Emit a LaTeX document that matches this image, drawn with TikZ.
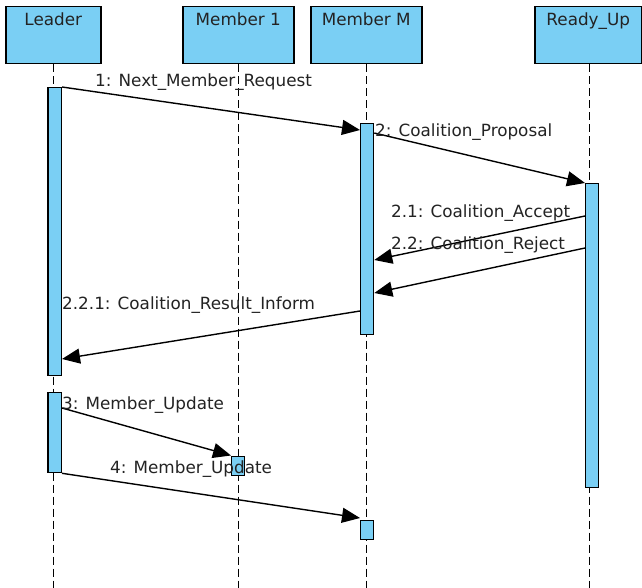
\documentclass[tikz,border=0pt]{standalone}
\usepackage{fontspec}
\setmainfont{DejaVu Sans}
\usetikzlibrary{arrows.meta,calc}
\definecolor{boxblue}{RGB}{122,207,244}
\definecolor{txt}{RGB}{35,35,35}
\begin{document}
\begin{tikzpicture}[x=1pt,y=-1pt,
  every node/.style={font=\fontsize{16.8}{18}\selectfont, text=txt},
  header/.style={draw=black, line width=1.5pt, fill=boxblue, anchor=north west,
    inner xsep=0pt, inner ysep=0pt, text height=18.5pt, text depth=38.5pt},
  actbar/.style={draw=black, line width=1.3pt, fill=boxblue, inner sep=0pt, anchor=north west},
  lifeline/.style={dash pattern=on 8pt off 4pt, line width=1.4pt},
  msg/.style={line width=1.4pt, -{Triangle[length=18pt,width=15pt]}},
  lbl/.style={anchor=base west, inner sep=0pt}
]
\path[fill=white] (0,0) rectangle (642,588);
\useasboundingbox (0,0) rectangle (642,588);

% headers
\node[header, minimum width=95pt]  (lead) at (5,6)   {Leader};
\node[header, minimum width=111pt] (mem1) at (182,6) {Member 1};
\node[header, minimum width=111pt] (memM) at (310,6) {Member M};
\node[header, minimum width=107pt] (ready) at (534,6) {Ready\_Up};

% lifeline ends
\coordinate (leadEnd)  at (lead.south |- 0,590);
\coordinate (mem1End)  at (mem1.south |- 0,590);
\coordinate (memMEnd)  at (memM.south |- 0,590);
\coordinate (readyEnd) at ($(ready.south |- 0,590)+(1.5,0)$);

\draw[lifeline] (lead.south) -- (leadEnd);
\draw[lifeline] (mem1.south) -- (mem1End);
\draw[lifeline] (memM.south) -- (memMEnd);
\draw[lifeline] ($(ready.south)+(1.5,0)$) -- (readyEnd);

% activation bars
\node[actbar, minimum width=13.4pt, minimum height=288pt]  (L1)  at (47.3,87) {};
\node[actbar, minimum width=13.4pt, minimum height=80.5pt] (L2)  at (47.3,391.5) {};
\node[actbar, minimum width=13pt,   minimum height=19.5pt] (M1a) at (231,455.5) {};
\node[actbar, minimum width=13pt,   minimum height=211pt]  (MMa) at (360,123) {};
\node[actbar, minimum width=13pt,   minimum height=19pt]   (MMb) at (360,520) {};
\node[actbar, minimum width=13pt,   minimum height=304pt]  (R1)  at (585,183) {};

% messages
\draw[msg] (L1.north east) -- ($(MMa.north west)+(0,7)$);
\draw[msg] ($(MMa.north east)+(0,10)$) -- (R1.north west);
\draw[msg] ($(R1.north west)+(0,33)$) -- ($(MMa.north east)+(0,137)$);
\draw[msg] ($(R1.north west)+(0,65)$) -- ($(MMa.north east)+(0,170)$);
\draw[msg] ($(MMa.north west)+(0,188)$) -- ($(L1.north east)+(0,272)$);
\draw[msg] ($(L2.north east)+(0,16.5)$) -- (M1a.north west);
\draw[msg] (L2.south east) -- ($(MMb.north west)+(0,-2)$);

% labels
\node[lbl] (t1)   at (95,87)   {1: Next\_Member\_Request};
\node[lbl] (t2)   at (375,137) {2: Coalition\_Proposal};
\node[lbl] (t21)  at (391,217) {2.1: Coalition\_Accept};
\node[lbl] (t22)  at (391,249) {2.2: Coalition\_Reject};
\node[lbl] (t221) at (62,309)  {2.2.1: Coalition\_Result\_Inform};
\node[lbl] (t3)   at (62,409)  {3: Member\_Update};
\node[lbl] (t4)   at (110,473) {4: Member\_Update};
\end{tikzpicture}
\end{document}
